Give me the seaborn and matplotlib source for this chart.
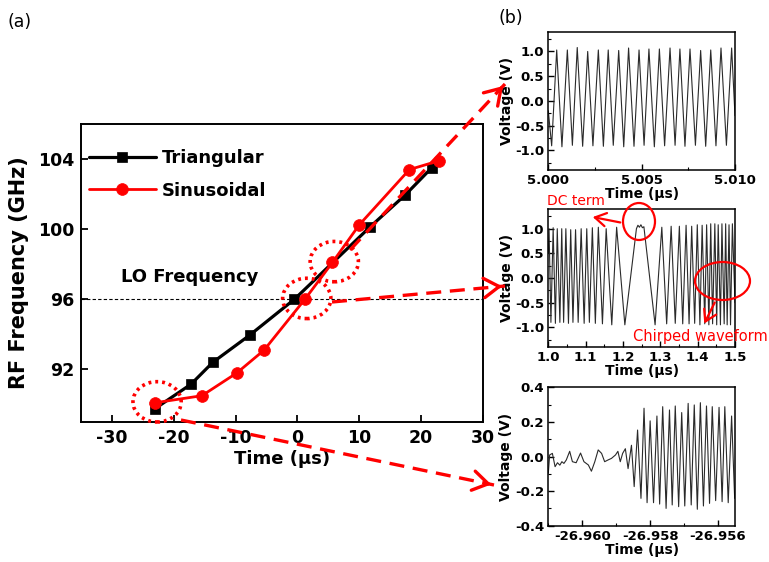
import numpy as np
import pandas as pd
import matplotlib
matplotlib.use("Agg")
import matplotlib.pyplot as plt
import seaborn as sns
from matplotlib.patches import Ellipse, FancyArrowPatch
from matplotlib.lines import Line2D
from matplotlib.ticker import FormatStrFormatter, AutoMinorLocator

# ---------------- data ----------------
tri_t = [-23.0, -17.2, -13.7, -7.7, -0.5, 11.65, 17.45, 21.7]
tri_f = [89.77, 91.16, 92.40, 93.96, 96.00, 100.10, 101.96, 103.50]
sin_t = [-23.0, -15.45, -9.8, -5.4, 1.2, 5.65, 10.0, 18.1, 22.85]
sin_f = [90.10, 90.50, 91.80, 93.10, 96.00, 98.10, 100.25, 103.40, 103.90]
lo_freq = 96.0

main_xticks = [-30, -20, -10, 0, 10, 20, 30]
main_yticks = [92, 96, 100, 104]

# panel b1 : steady waveform (peaks / troughs)
p1_peak_t = [5.00045, 5.00102, 5.00155, 5.00211, 5.00268, 5.00321, 5.00377, 5.00430, 5.00486,
             5.00539, 5.00595, 5.00652, 5.00705, 5.00759, 5.00816, 5.00870, 5.00925, 5.00982]
p1_peak_v = [1.03, 1.03, 1.08, 1.00, 1.03, 1.03, 1.02, 1.07, 1.03,
             1.05, 1.05, 1.07, 1.05, 1.05, 1.02, 1.03, 1.07, 1.07]
p1_trough_t = [5.00018, 5.00073, 5.00129, 5.00184, 5.00239, 5.00295, 5.00348, 5.00404, 5.00459,
               5.00513, 5.00568, 5.00623, 5.00679, 5.00732, 5.00788, 5.00843, 5.00898, 5.00954]
p1_trough_v = [-0.91, -0.93, -0.90, -0.92, -0.91, -0.92, -0.90, -0.93, -0.92,
               -0.90, -0.93, -0.91, -0.90, -0.92, -0.90, -0.92, -0.91, -0.90]
p1_edge_t = [5.0000, 5.0100]
p1_edge_v = [-0.20, -0.30]

# panel b2 : chirped waveform around the DC term
p2_peak_t = [1.002, 1.013, 1.024, 1.036, 1.047, 1.060, 1.073, 1.088, 1.103, 1.118, 1.134, 1.155, 1.183,
             1.304, 1.329, 1.351, 1.369, 1.384, 1.399, 1.412, 1.424, 1.435, 1.446, 1.455, 1.465,
             1.475, 1.484, 1.493]
p2_peak_v = [1.00, 1.02, 1.00, 1.00, 1.00, 0.98, 0.98, 1.00, 1.00, 1.02, 1.03, 1.00, 1.03,
             1.03, 1.05, 1.05, 1.07, 1.05, 1.08, 1.07, 1.08, 1.10, 1.10, 1.08, 1.10,
             1.10, 1.08, 1.10]
p2_trough_t = [1.007, 1.019, 1.031, 1.041, 1.054, 1.066, 1.080, 1.096, 1.110, 1.126, 1.145, 1.170, 1.205,
               1.286, 1.317, 1.340, 1.360, 1.377, 1.392, 1.406, 1.419, 1.430, 1.440, 1.451, 1.461,
               1.471, 1.479, 1.488]
p2_trough_v = [-0.90, -0.92, -0.90, -0.90, -0.92, -0.90, -0.90, -0.92, -0.90, -0.92, -0.93, -0.95, -0.95,
               -0.95, -0.93, -0.92, -0.93, -0.93, -0.92, -0.95, -0.93, -0.95, -0.93, -0.95, -0.95,
               -0.93, -0.95, -0.95]
p2_dc_t = [1.236, 1.240, 1.244, 1.248, 1.252, 1.256]
p2_dc_v = [1.00, 1.07, 1.03, 1.08, 1.02, 1.04]
p2_edge_t = [1.000, 1.500]
p2_edge_v = [0.50, -0.50]

# panel b3 : onset of the beat signal
p3_t = [-26.96100, -26.96096, -26.96088, -26.96080, -26.96073, -26.96066, -26.96060, -26.96054,
        -26.96047, -26.96037, -26.96029, -26.96018, -26.96005, -26.95995, -26.95982, -26.95973,
        -26.95963, -26.95953, -26.95943, -26.95934, -26.95924, -26.95914, -26.95902, -26.95895,
        -26.95888, -26.95881, -26.95873, -26.95865, -26.95855, -26.95847, -26.95837, -26.95827,
        -26.95818, -26.95809, -26.95800, -26.95790, -26.95780, -26.95772, -26.95763, -26.95753,
        -26.95743, -26.95735, -26.95726, -26.95716, -26.95707, -26.95698, -26.95688, -26.95679,
        -26.95670, -26.95661, -26.95652, -26.95643, -26.95634, -26.95625, -26.95617, -26.95607,
        -26.95597, -26.95588, -26.95580, -26.95570, -26.95560, -26.95551]
p3_v = [-0.097, 0.009, 0.018, -0.059, -0.036, -0.050, -0.030, -0.040,
        -0.020, 0.030, -0.030, -0.036, 0.020, -0.030, -0.049, -0.085,
        -0.030, 0.038, 0.018, -0.030, -0.020, -0.011, 0.009, 0.030,
        -0.030, 0.018, 0.045, -0.070, 0.065, -0.174, 0.153, -0.242,
        0.279, -0.267, 0.206, -0.267, 0.234, -0.275, 0.288, -0.300,
        0.269, -0.280, 0.292, -0.290, 0.254, -0.286, 0.307, -0.280,
        0.298, -0.305, 0.311, -0.286, 0.292, -0.271, 0.288, -0.255,
        0.284, -0.261, 0.288, -0.267, 0.234, -0.242]

# ---------------- style ----------------
sns.set_theme(style="ticks")
plt.rcParams["font.family"] = ["DejaVu Sans"]
plt.rcParams["axes.unicode_minus"] = False
plt.rcParams["font.weight"] = "bold"
for k in ["text.color", "axes.labelcolor", "xtick.color", "ytick.color", "axes.edgecolor"]:
    plt.rcParams[k] = "black"

W, H = 769, 562
fig = plt.figure(figsize=(W / 100, H / 100), dpi=100)


def fx(x):
    return x / W


def fy(y):
    return 1 - y / H


def box(l, t, r, b):
    return [fx(l), fy(b), fx(r) - fx(l), fy(t) - fy(b)]


# ---------------- main panel (a) ----------------
ax = fig.add_axes(box(81, 124, 483, 422))
sns.lineplot(x=tri_t, y=tri_f, ax=ax, color="black", lw=2.3, marker="s", markersize=7.5,
             markeredgecolor="black", markeredgewidth=0.5, label="Triangular")
sns.lineplot(x=sin_t, y=sin_f, ax=ax, color="#ff0000", lw=2.0, marker="o", markersize=8.5,
             markeredgecolor="#ff0000", markeredgewidth=0.5, label="Sinusoidal")
ax.axhline(lo_freq, color="black", lw=0.8, ls=(0, (3, 2)), zorder=1)
ax.text(-28.5, 97.3, "LO Frequency", fontsize=13, fontweight="bold", ha="left", va="center")

ax.set_xlim(-35, 30)
ax.set_ylim(89, 106)
ax.set_xticks(main_xticks)
ax.set_yticks(main_yticks)
ax.tick_params(direction="in", length=5, width=1.3, labelsize=12.5, top=False, right=False, pad=5,
               colors="black")
for lab in ax.get_xticklabels() + ax.get_yticklabels():
    lab.set_fontweight("bold")
for s in ax.spines.values():
    s.set_linewidth(1.4)
    s.set_visible(True)
    s.set_color("black")
ax.set_xlabel("Time (μs)", fontsize=13, fontweight="bold", labelpad=2)
ax.set_ylabel("RF Frequency (GHz)", fontsize=15, fontweight="bold", labelpad=6)
leg = ax.legend(loc="upper left", bbox_to_anchor=(0.02, 0.915), frameon=False, fontsize=13,
                handlelength=3.7, handletextpad=0.35, labelspacing=0.8, borderpad=0,
                borderaxespad=0)
for t in leg.get_texts():
    t.set_fontweight("bold")
    t.set_color("black")

# dotted circles on the main panel
for (cx, cy) in [(sin_t[0], sin_f[0]), (sin_t[4], sin_f[4]), (sin_t[5], sin_f[5])]:
    ax.add_patch(Ellipse((cx + 0.3, cy + 0.05), 7.8, 2.3, fill=False, ec="#ff0000", lw=2.6,
                         ls=(0, (0.8, 1.1)), zorder=5, clip_on=False))


# ---------------- small panels (b) ----------------
def small_axes(rect):
    a = fig.add_axes(rect)
    a.tick_params(which="both", direction="in", top=False, right=False, labelsize=9.5, pad=3,
                  colors="black")
    a.tick_params(which="major", length=4, width=1)
    a.tick_params(which="minor", length=2, width=0.8)
    for s in a.spines.values():
        s.set_linewidth(1.1)
        s.set_visible(True)
        s.set_color("black")
    return a


def finish_small(a):
    a.set_ylabel("Voltage (V)", fontsize=10, fontweight="bold", labelpad=1)
    a.set_xlabel("Time (μs)", fontsize=10, fontweight="bold", labelpad=0)
    a.xaxis.set_minor_locator(AutoMinorLocator(2))
    a.yaxis.set_minor_locator(AutoMinorLocator(2))
    for lab in a.get_xticklabels() + a.get_yticklabels():
        lab.set_fontweight("bold")


wave_kw = dict(color="#2a2a2a", lw=0.8, estimator=None, sort=True)

# b1
a1 = small_axes(box(548.3, 31.7, 735, 170))
d1 = pd.DataFrame({"t": p1_peak_t + p1_trough_t + p1_edge_t,
                   "v": p1_peak_v + p1_trough_v + p1_edge_v})
sns.lineplot(data=d1, x="t", y="v", ax=a1, **wave_kw)
a1.set_xlim(5.000, 5.010)
a1.set_ylim(-1.4, 1.4)
a1.set_xticks([5.000, 5.005, 5.010])
a1.xaxis.set_major_formatter(FormatStrFormatter("%.3f"))
a1.set_yticks([-1.0, -0.5, 0.0, 0.5, 1.0])
a1.yaxis.set_major_formatter(FormatStrFormatter("%.1f"))
finish_small(a1)

# b2
a2 = small_axes(box(548.3, 209, 735, 347))
d2 = pd.DataFrame({"t": p2_peak_t + p2_trough_t + p2_dc_t + p2_edge_t,
                   "v": p2_peak_v + p2_trough_v + p2_dc_v + p2_edge_v})
sns.lineplot(data=d2, x="t", y="v", ax=a2, **wave_kw)
a2.set_xlim(1.0, 1.5)
a2.set_ylim(-1.4, 1.4)
a2.set_xticks([1.0, 1.1, 1.2, 1.3, 1.4, 1.5])
a2.xaxis.set_major_formatter(FormatStrFormatter("%.1f"))
a2.set_yticks([-1.0, -0.5, 0.0, 0.5, 1.0])
a2.yaxis.set_major_formatter(FormatStrFormatter("%.1f"))
finish_small(a2)

# b3
a3 = small_axes(box(548.3, 387.3, 735, 525.7))
d3 = pd.DataFrame({"t": p3_t, "v": p3_v})
sns.lineplot(data=d3, x="t", y="v", ax=a3, **wave_kw)
a3.set_xlim(-26.961, -26.9555)
a3.set_ylim(-0.4, 0.4)
a3.set_xticks([-26.960, -26.958, -26.956])
a3.xaxis.set_major_formatter(FormatStrFormatter("%.3f"))
a3.set_yticks([-0.4, -0.2, 0.0, 0.2, 0.4])
a3.yaxis.set_major_formatter(FormatStrFormatter("%.1f"))
finish_small(a3)

# ---------------- annotations ----------------
RED = "#ff0000"


def dashed_arrow(x0, y0, x1, y1):
    fig.add_artist(Line2D([fx(x0), fx(x1)], [fy(y0), fy(y1)], transform=fig.transFigure,
                          color=RED, lw=2.4, dashes=(4.5, 2.6)))
    d = np.hypot(x1 - x0, y1 - y0)
    bx, by = x1 - (x1 - x0) / d * 10, y1 - (y1 - y0) / d * 10
    fig.add_artist(FancyArrowPatch((fx(bx), fy(by)), (fx(x1), fy(y1)), transform=fig.transFigure,
                                   arrowstyle="->,head_length=0.55,head_width=0.35",
                                   mutation_scale=20, color=RED, lw=2.4))


dashed_arrow(350, 250, 505, 84)
dashed_arrow(332, 302, 505, 286)
dashed_arrow(181, 420, 494, 485)


def solid_arrow(x0, y0, x1, y1):
    fig.add_artist(FancyArrowPatch((fx(x0), fy(y0)), (fx(x1), fy(y1)), transform=fig.transFigure,
                                   arrowstyle="->,head_length=0.5,head_width=0.3",
                                   mutation_scale=16, color=RED, lw=1.6))


fig.add_artist(Ellipse((fx(639), fy(221.5)), 32 / W, 37 / H, transform=fig.transFigure,
                       fill=False, ec=RED, lw=1.6))
solid_arrow(623, 223, 590, 216.5)
fig.text(fx(576), fy(201), "DC term", color=RED, fontsize=10, fontweight="normal",
         ha="center", va="center")

fig.add_artist(Ellipse((fx(722.5), fy(281)), 55 / W, 38 / H, transform=fig.transFigure,
                       fill=False, ec=RED, lw=1.6))
solid_arrow(716, 300, 703, 326)
fig.text(fx(700), fy(337), "Chirped waveform", color=RED, fontsize=10.5, fontweight="normal",
         ha="center", va="center")

fig.text(fx(20), fy(22), "(a)", fontsize=12.5, fontweight="normal", ha="center", va="center",
         color="black")
fig.text(fx(511), fy(18), "(b)", fontsize=12.5, fontweight="normal", ha="center", va="center",
         color="black")

fig.savefig("out.png", dpi=100)
